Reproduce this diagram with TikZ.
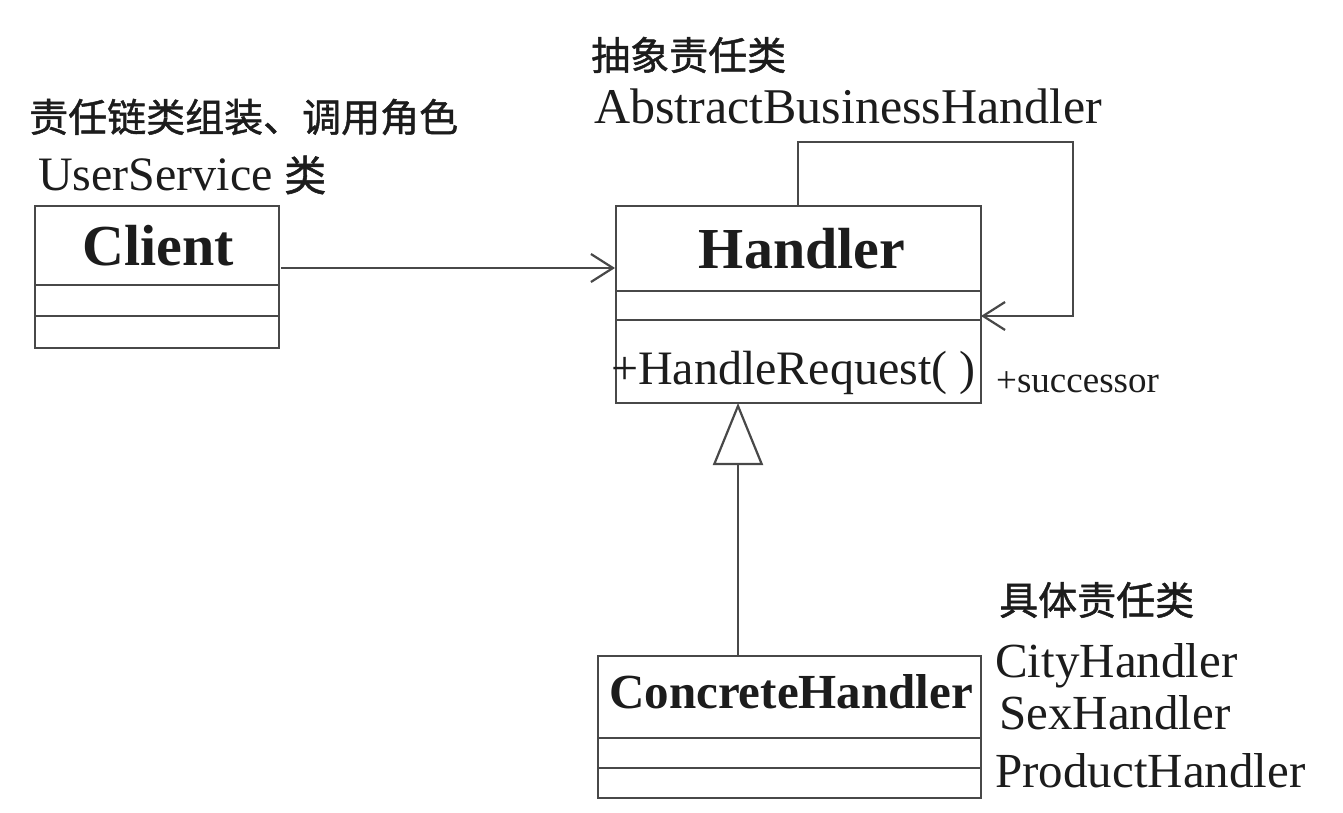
\documentclass[tikz,border=0pt]{standalone}
\usepackage{fontspec}
\setmainfont{Liberation Serif}
\newfontfamily\cjk[FakeBold=1.2,AutoFakeBold=1.2]{Noto Sans CJK SC}
\usetikzlibrary{arrows.meta}
\definecolor{ln}{RGB}{72,72,72}
\definecolor{tx}{RGB}{28,28,28}
\begin{document}
\begin{tikzpicture}[x=1pt,y=-1pt,
  box/.style={draw=ln, line width=2.2pt, inner sep=0pt, anchor=north west},
  conn/.style={draw=ln, line width=2.2pt},
  assoc/.style={conn, -{Straight Barb[length=22pt,width=28pt,line width=2.2pt]}},
  gen/.style={conn, -{Triangle[open,length=62pt,width=50pt,line width=2.2pt,fill=white]}},
  cls/.style={inner sep=0pt, text=tx, font=\bfseries\fontsize{58}{60}\selectfont},
  lat/.style={inner sep=0pt, text=tx, anchor=base west, font=\fontsize{49}{52}\selectfont},
  cn/.style={inner sep=0pt, text=tx, anchor=west, font=\cjk\bfseries\fontsize{39}{42}\selectfont},
]
\useasboundingbox (0,0) rectangle (1343,813);
\fill[white] (0,0) rectangle (1343,813);

% Client
\node[box, minimum width=244pt, minimum height=142pt] (client) at (34,205) {};
\draw[conn] (34,285) -- (278,285);
\draw[conn] (34,316) -- (278,316);
\node[cls, anchor=base] (clientT) at (158,265) {Client};

% Handler
\node[box, minimum width=365pt, minimum height=197pt] (handler) at (615,205) {};
\draw[conn] (615,291) -- (980,291);
\draw[conn] (615,320) -- (980,320);
\node[cls, anchor=base] (handlerT) at (802,268) {Handler};
\node[lat, font=\fontsize{48}{50}\selectfont] (req) at (611,384) {+HandleRequest( )};

% ConcreteHandler
\node[box, minimum width=383pt, minimum height=142pt] (concrete) at (597,655) {};
\draw[conn] (597,738) -- (980,738);
\draw[conn] (597,768) -- (980,768);
\node[cls, anchor=base west, font=\bfseries\fontsize{49}{52}\selectfont] (concreteT) at (609,708) {ConcreteHandler};

% connectors
\coordinate (a1) at (281,268);
\coordinate (a2) at (615,268);
\draw[assoc] (a1) -- (a2);
\coordinate (s0) at (798,205);
\coordinate (s1) at (798,142);
\coordinate (s2) at (1073,142);
\coordinate (s3) at (1073,316);
\coordinate (s4) at (981,316);
\draw[conn] (s0) -- (s1) -- (s2) -- (s3) -- (s4);
\draw[assoc] (s3) -- (s4);
\coordinate (g0) at (738,655);
\coordinate (g1) at (738,403);
\draw[gen] (g0) -- (g1);

% labels
\node[cn] (l1) at (29,117) {责任链类组装、调用角色};
\node[lat, font=\fontsize{48}{50}\selectfont] (l2) at (38,191) {UserService};
\node[cn, font=\cjk\bfseries\fontsize{42}{44}\selectfont] (l2b) at (284,175) {类};
\node[cn] (l3) at (591,55) {抽象责任类};
\node[lat, font=\fontsize{50}{52}\selectfont] (l4) at (594,124) {AbstractBusinessHandler};
\node[lat, font=\fontsize{37}{40}\selectfont] (succ) at (996,392) {+successor};
\node[cn] (l5) at (999,600) {具体责任类};
\node[lat] (c1) at (995,677) {CityHandler};
\node[lat] (c2) at (999,729) {SexHandler};
\node[lat] (c3) at (995,787) {ProductHandler};
\end{tikzpicture}
\end{document}
